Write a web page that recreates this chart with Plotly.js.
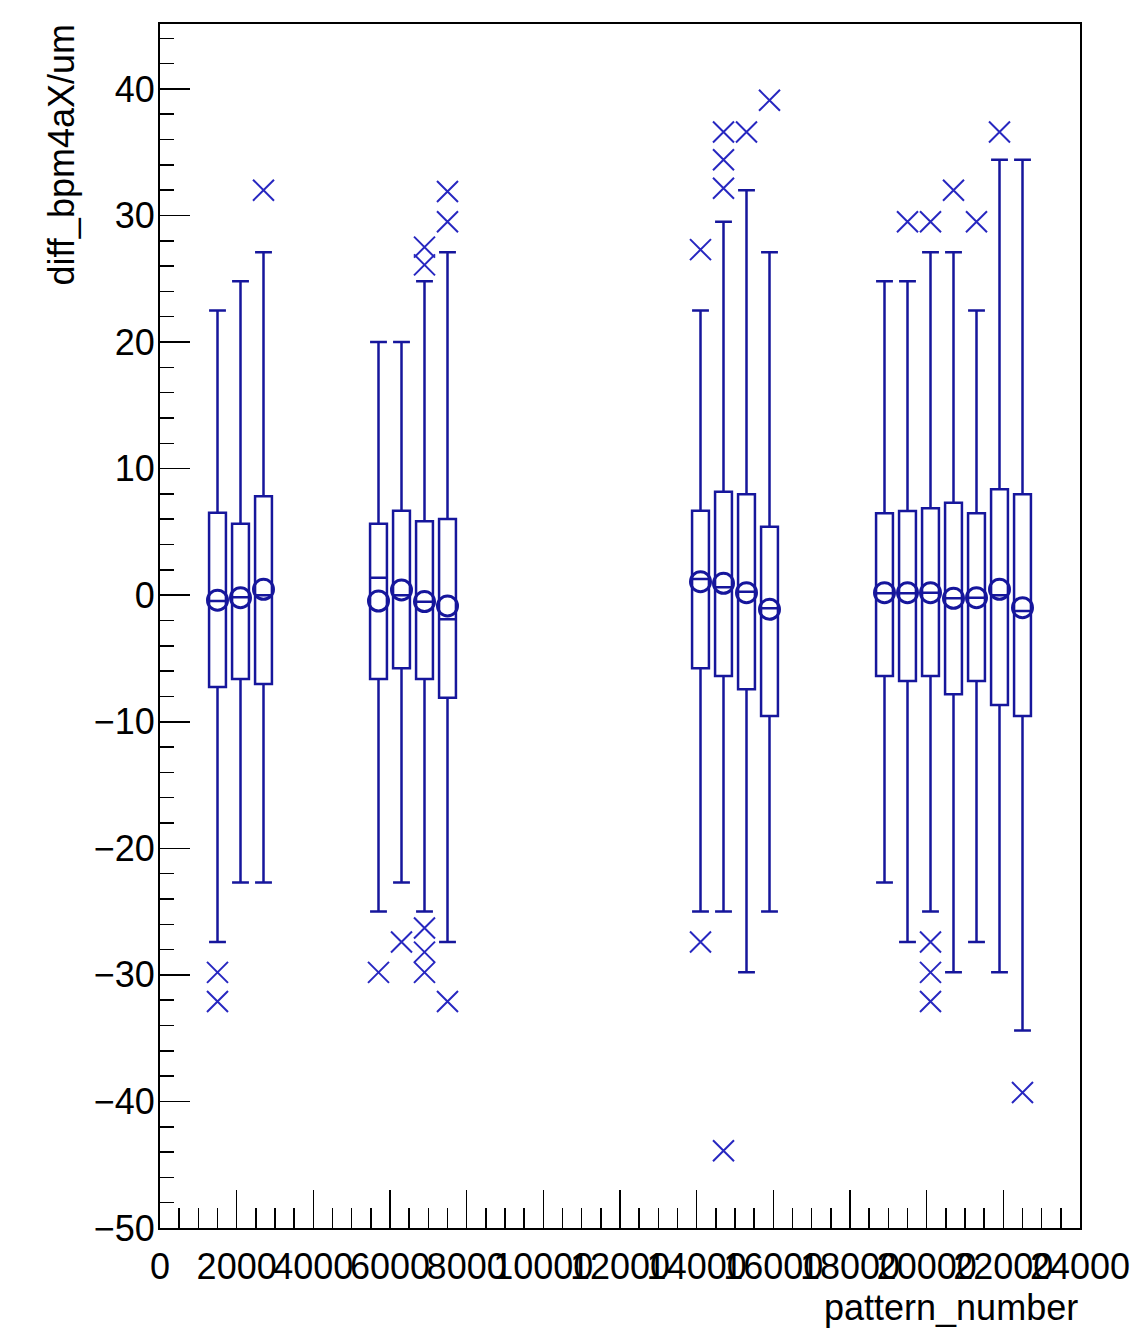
<!DOCTYPE html>
<html>
<head>
<meta charset="utf-8">
<script src="https://cdn.plot.ly/plotly-3.0.1.min.js"></script>
<style>
  html, body { margin: 0; padding: 0; background: #fff; }
  #chart { width: 1139px; height: 1330px; }
</style>
</head>
<body>
<div id="chart"></div>
<script>
// Bin centres (pattern_number)
const patternBins = [1500, 2100, 2700, 5700, 6300, 6900, 7500, 14100, 14700, 15300, 15900, 18900, 19500, 20100, 20700, 21300, 21900, 22500];
// Candle statistics (diff_bpm4aX / um)
const q1Vals     = [-7.25, -6.62, -7.02, -6.62, -5.78, -6.62, -8.10, -5.78, -6.38, -7.44, -9.55, -6.38, -6.78, -6.38, -7.83, -6.78, -8.68, -9.55];
const medianVals = [-0.45, -0.17, 0.00, 1.38, 0.00, -0.51, -1.90, 1.28, 0.62, 0.28, -1.04, 0.15, 0.15, 0.20, -0.25, -0.20, 0.00, -1.25];
const q3Vals     = [6.52, 5.65, 7.81, 5.65, 6.68, 5.84, 6.02, 6.68, 8.18, 7.97, 5.41, 6.47, 6.65, 6.86, 7.31, 6.47, 8.37, 7.97];
const lowWhisker = [-27.4, -22.7, -22.7, -25.0, -22.7, -25.0, -27.4, -25.0, -25.0, -29.8, -25.0, -22.7, -27.4, -25.0, -29.8, -27.4, -29.8, -34.4];
const upWhisker  = [22.5, 24.8, 27.1, 20.0, 20.0, 24.8, 27.1, 22.5, 29.5, 32.0, 27.1, 24.8, 24.8, 27.1, 27.1, 22.5, 34.4, 34.4];
const meanVals   = [-0.40, -0.20, 0.46, -0.46, 0.41, -0.50, -0.85, 1.07, 0.94, 0.20, -1.12, 0.20, 0.20, 0.20, -0.25, -0.20, 0.46, -0.99];
// Outliers
const outlierX = [1500, 1500, 2700, 5700, 6300, 6900, 6900, 6900, 6900, 6900, 7500, 7500, 7500,
                  14100, 14100, 14700, 14700, 14700, 14700, 15300, 15900,
                  19500, 20100, 20100, 20100, 20100, 20700, 21300, 21900, 22500];
const outlierY = [-29.8, -32.1, 32.0, -29.8, -27.4, 27.5, 26.1, -26.3, -28.2, -29.8, 31.9, 29.5, -32.1,
                  27.3, -27.4, 36.6, 34.4, 32.15, -43.9, 36.6, 39.1,
                  29.5, 29.5, -27.4, -29.8, -32.1, 32.0, 29.5, 36.6, -39.3];
// Axis labels
const xTitle = "pattern_number";
const yTitle = "diff_bpm4aX/um";

const blue = "#16169c";
const crossBlue = "#2727c0";
const fontFam = "'Liberation Sans', Arial, Helvetica, sans-serif";

const traces = [
  {
    type: "box",
    x: patternBins,
    q1: q1Vals,
    median: medianVals,
    q3: q3Vals,
    lowerfence: lowWhisker,
    upperfence: upWhisker,
    width: 440,
    whiskerwidth: 1,
    boxpoints: false,
    line: { color: blue, width: 2.5 },
    fillcolor: "rgba(0,0,0,0)",
    hoverinfo: "skip",
    showlegend: false
  },
  {
    type: "scatter",
    mode: "markers",
    x: patternBins,
    y: meanVals,
    marker: { symbol: "circle-open", size: 20, color: blue, line: { color: blue, width: 3 } },
    showlegend: false,
    hoverinfo: "skip"
  },
  {
    type: "scatter",
    mode: "markers",
    x: outlierX,
    y: outlierY,
    marker: { symbol: "x-thin-open", size: 21, color: crossBlue, line: { color: crossBlue, width: 2 } },
    showlegend: false,
    hoverinfo: "skip"
  }
];

const layout = {
  width: 1139,
  height: 1330,
  paper_bgcolor: "#ffffff",
  plot_bgcolor: "#ffffff",
  margin: { l: 160, r: 59, t: 24, b: 102, pad: 0 },
  showlegend: false,
  font: { family: fontFam, size: 36, color: "#000" },
  xaxis: {
    range: [0, 24000],
    tickmode: "linear",
    tick0: 0,
    dtick: 2000,
    tickformat: "d",
    ticks: "inside",
    ticklen: 38,
    tickwidth: 1.5,
    tickcolor: "#000",
    tickangle: 0,
    ticklabelstandoff: 6,
    minor: { dtick: 500, tick0: 0, ticks: "inside", ticklen: 20, tickwidth: 1.5, tickcolor: "#000", showgrid: false },
    showline: true,
    linecolor: "#000",
    linewidth: 2,
    mirror: true,
    showgrid: false,
    zeroline: false,
    tickfont: { family: fontFam, size: 36, color: "#000" }
  },
  yaxis: {
    range: [-50, 45.13],
    tickmode: "linear",
    tick0: 0,
    dtick: 10,
    ticks: "inside",
    ticklen: 30,
    tickwidth: 1.5,
    tickcolor: "#000",
    ticklabelstandoff: -4,
    minor: { dtick: 2, tick0: 0, ticks: "inside", ticklen: 14, tickwidth: 1.5, tickcolor: "#000", showgrid: false },
    showline: true,
    linecolor: "#000",
    linewidth: 2,
    mirror: true,
    showgrid: false,
    zeroline: false,
    tickfont: { family: fontFam, size: 36, color: "#000" }
  },
  annotations: [
    {
      text: xTitle,
      xref: "paper", yref: "paper",
      x: 1.0, y: -0.066,
      xanchor: "right", yanchor: "middle",
      showarrow: false,
      font: { family: fontFam, size: 36, color: "#000" }
    },
    {
      text: yTitle,
      xref: "paper", yref: "paper",
      x: -0.107, y: 1.0017,
      xanchor: "center", yanchor: "top",
      textangle: -90,
      showarrow: false,
      font: { family: fontFam, size: 36, color: "#000" }
    }
  ]
};

Plotly.newPlot("chart", traces, layout, { staticPlot: true, displayModeBar: false });
</script>
</body>
</html>
